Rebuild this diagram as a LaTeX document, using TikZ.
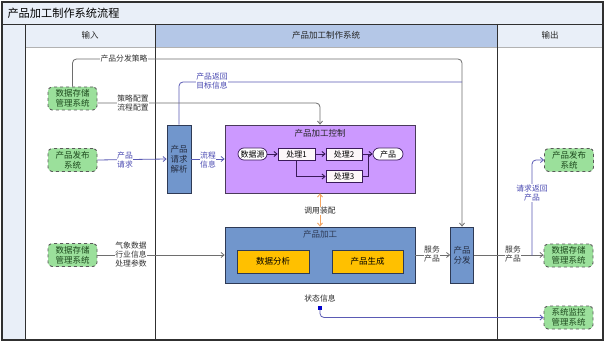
\documentclass[tikz,border=0pt]{standalone}
\usepackage{fontspec}
\setmainfont{Noto Sans CJK SC}
\usetikzlibrary{arrows.meta}
\definecolor{hdrlight}{HTML}{E9EFF8}
\definecolor{hdrblue}{HTML}{B4C7E7}
\definecolor{frame}{HTML}{303030}
\definecolor{grfill}{HTML}{9BE09B}
\definecolor{grtext}{HTML}{1E4A1E}
\definecolor{bfill}{HTML}{7196CC}
\definecolor{bdraw}{HTML}{2E3A55}
\definecolor{pfill}{HTML}{CC99FF}
\definecolor{pdraw}{HTML}{4A3A5A}
\definecolor{yfill}{HTML}{FFC000}
\definecolor{gline}{HTML}{6E6E6E}
\definecolor{bline}{HTML}{5A5AB4}
\definecolor{btext}{HTML}{4646B0}
\definecolor{dline}{HTML}{3A1A5A}
\definecolor{orng}{HTML}{F4A460}
\tikzset{
  grnode/.style={draw=gray!70!black, dashed, line width=0.9pt, fill=grfill, rounded corners=4pt,
    minimum width=49pt, minimum height=23pt, inner sep=1pt, align=center,
    font=\fontsize{8.5}{9.8}\selectfont, text=grtext},
  bluebox/.style={draw=bdraw, fill=bfill, line width=0.8pt, align=center, inner sep=0pt,
    font=\fontsize{8.5}{9.8}\selectfont, text=bdraw!80!black},
  procbox/.style={draw=dline, fill=purple!3!white, line width=0.7pt, minimum height=12pt,
    inner sep=0pt, font=\fontsize{8}{8.5}\selectfont},
  pill/.style={procbox, rounded corners=6pt, fill=white},
  ybox/.style={draw=bdraw, fill=yfill, line width=0.8pt, minimum height=23pt, inner sep=0pt,
    font=\fontsize{8.5}{9}\selectfont},
  glabel/.style={fill=white, inner sep=0.5pt, align=center, font=\fontsize{7.8}{9}\selectfont, text=black!80},
  blabel/.style={glabel, text=btext},
  tip/.style={-{Straight Barb[length=3pt,width=5pt]}},
  gconn/.style={draw=gline, line width=0.8pt, rounded corners=4pt},
  bconn/.style={draw=bline, line width=0.8pt, rounded corners=4pt},
  dconn/.style={draw=dline, line width=0.9pt},
  hdr/.style={font=\fontsize{8.5}{10}\selectfont, text=black!85},
}
\begin{document}
\begin{tikzpicture}[x=1pt,y=-1pt]
\useasboundingbox (0,0) rectangle (605,342);
% frame and swimlanes
\fill[white] (2,2) rectangle (603,340);
\fill[hdrlight] (2,2) rectangle (603,24);
\fill[hdrlight] (2,24) rectangle (25,340);
\fill[hdrlight] (25,24) rectangle (155,47);
\fill[hdrblue] (155,24) rectangle (497,47);
\fill[hdrlight] (497,24) rectangle (603,47);
\draw[gray!60, line width=0.5pt] (25,47) -- (603,47);
\draw[frame, line width=0.9pt] (2,24) -- (603,24);
\draw[frame, line width=0.9pt] (25,24) -- (25,340);
\draw[frame, line width=0.9pt] (155,24) -- (155,340);
\draw[frame, line width=0.9pt] (497,24) -- (497,340);
\draw[frame, line width=1.1pt] (2,2) rectangle (603,340);
\node[anchor=west, font=\fontsize{11.2}{12}\selectfont] (title) at (4,13) {产品加工制作系统流程};
\node[hdr] (hin) at (90,35.5) {输入};
\node[hdr] (hsys) at (326,35.5) {产品加工制作系统};
\node[hdr] (hout) at (550,35.5) {输出};

% input nodes
\node[grnode] (dsA) at (72.5,98.5) {数据存储\\管理系统};
\node[grnode] (pubL) at (72.5,160) {产品发布\\系统};
\node[grnode] (dsB) at (72.5,255) {数据存储\\管理系统};

% system nodes
\node[bluebox, minimum width=24pt, minimum height=68pt] (parse) at (179,159) {产品\\请求\\解析};
\node[draw=pdraw, fill=pfill, line width=0.8pt, minimum width=190pt, minimum height=68pt] (ctrl) at (320,159) {};
\node[font=\fontsize{8.5}{9}\selectfont, text=black!85] (ctrlt) at (320,133) {产品加工控制};
\node[pill, minimum width=29pt] (src) at (252.5,154) {数据源};
\node[procbox, minimum width=37pt] (p1) at (296.5,154) {处理1};
\node[procbox, minimum width=36pt] (p2) at (344,154) {处理2};
\node[pill, minimum width=30pt] (prod) at (388,154) {产品};
\node[procbox, minimum width=36pt] (p3) at (344,176.5) {处理3};
\coordinate (j4) at (368,154);

\node[bluebox, minimum width=190pt, minimum height=56pt] (proc) at (320,255) {};
\node[font=\fontsize{8.5}{9}\selectfont, text=bdraw] (proct) at (320,234) {产品加工};
\node[ybox, minimum width=72pt] (ana) at (273,261.5) {数据分析};
\node[ybox, minimum width=71pt] (gen) at (367.5,261.5) {产品生成};

\node[bluebox, minimum width=23pt, minimum height=56pt] (dist) at (462,255) {产品\\分发};

% output nodes
\node[grnode] (pubR) at (569,160) {产品发布\\系统};
\node[grnode] (dsR) at (568.5,255.5) {数据存储\\管理系统};
\node[grnode] (mon) at (568.5,317.5) {系统监控\\管理系统};

% helper coordinates
\coordinate (c1) at (462,59);
\coordinate (c3) at (462,82);
\coordinate (c5) at (532,255.5);

% connectors
\draw[gconn, tip] (dsA.north) |- (c1) -- (dist.north);
\node[glabel] (l1) at (124,59) {产品分发策略};

\draw[bconn] (parse.north) |- (c3);
\node[blabel] (l3) at (212,81) {产品返回\\目标信息};

\draw[gconn, tip] ([yshift=-4.5pt]dsA.east) -| (ctrl.north);
\node[glabel] (l2) at (133,103) {策略配置\\流程配置};

\draw[bconn, tip] (pubL.east) -- (parse.west);
\node[blabel] (l4) at (125,160) {产品\\请求};

\draw[bconn, tip] (parse.east) -- (ctrl.west |- parse.east);
\node[blabel] (l5) at (208,160) {流程\\信息};

\draw[dconn, tip] (src) -- (p1);
\draw[dconn, tip] (p1) -- (p2);
\draw[dconn, tip] (p2) -- (prod);
\draw[dconn, tip] (p1.south) |- (p3.west);
\draw[dconn] (p3.east) -| (j4);

\node[glabel, text=black!85] (l6) at (320,211) {调用装配};
\draw[draw=orng, line width=0.9pt, tip] (l6.north) -- (ctrl.south);
\draw[draw=orng, line width=0.9pt, tip] (l6.south) -- (proc.north);

\draw[gconn, tip] (dsB.east) -- (proc.west);
\node[glabel] (l7) at (131,255) {气象数据\\行业信息\\处理参数};

\draw[gconn, tip] (proc.east |- dist.west) -- (dist.west);
\node[glabel] (l8) at (432,254) {服务\\产品};

\draw[gconn, tip] (dist.east) -- (dist.east -| dsR.west);
\node[glabel] (l9) at (513,254.5) {服务\\产品};

\draw[bconn, tip] (c5) |- (pubR.west);
\node[blabel] (l10) at (532,193) {请求返回\\产品};

\node[glabel, text=black!85] (l11) at (320,299) {状态信息};
\node[fill=blue!80!black, minimum size=4pt, inner sep=0pt] (sm) at (320,307.5) {};
\draw[bconn, tip] (sm.south) |- (mon.west);
\end{tikzpicture}
\end{document}
